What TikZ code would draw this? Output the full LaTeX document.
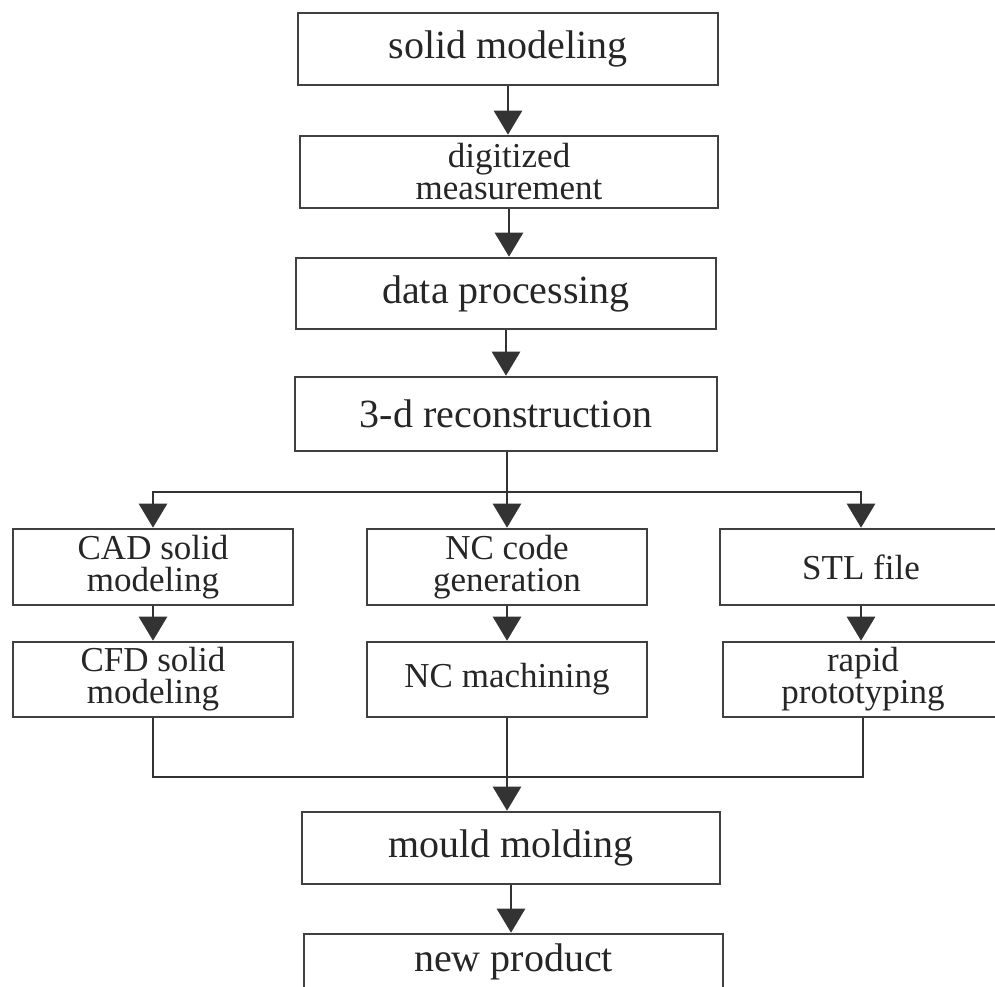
\documentclass[tikz,border=0pt]{standalone}
\usepackage{fontspec}
\setmainfont{Liberation Serif}
\usetikzlibrary{arrows.meta}
\tikzset{
  box/.style={draw=black!75, line width=2.6pt, rectangle, inner sep=0pt, align=center, text=black!85},
  big/.style={font=\fontsize{40}{42}\selectfont},
  small/.style={font=\fontsize{35}{32}\selectfont},
  flow/.style={draw=black!80, line width=2.8pt},
  arr/.style={flow, -{Triangle[width=28pt,length=24pt]}}
}
\begin{document}
\begin{tikzpicture}[x=1pt,y=-1pt]
\useasboundingbox (0,0) rectangle (995,986);
\clip (0,0) rectangle (995,986);
\fill[white] (0,0) rectangle (995,986);
% main column
\node[box,big,minimum width=420pt,minimum height=72pt] (b1) at (508,49) {solid modeling};
\node[box,small,minimum width=418pt,minimum height=72pt] (b2) at (509,172) {digitized\\measurement};
\node[box,big,minimum width=420pt,minimum height=71pt] (b3) at (506,293.5) {data processing};
\node[box,big,minimum width=422pt,minimum height=74pt] (b4) at (506,414) {3-d reconstruction};
% branches
\node[box,small,minimum width=280pt,minimum height=76pt] (cad) at (153,567) {CAD solid\\modeling};
\node[box,small,minimum width=280pt,minimum height=76pt] (nc1) at (507,567) {NC code\\generation};
\node[box,small,minimum width=282pt,minimum height=76pt] (stl) at (861,567) {STL file};
\node[box,small,minimum width=280pt,minimum height=75pt] (cfd) at (153,679.5) {CFD solid\\modeling};
\node[box,small,minimum width=280pt,minimum height=75pt] (nc2) at (507,679.5) {NC machining};
\node[box,small,minimum width=280pt,minimum height=75pt] (rp) at (863,679.5) {rapid\\prototyping};
% bottom
\node[box,big,minimum width=418pt,minimum height=72pt] (mm) at (511,848) {mould molding};
\node[box,minimum width=419pt,minimum height=72pt] (np) at (513.5,970) {};
\node[big,text=black!85,inner sep=0pt] (npt) at (513.5,962) {new product};
% connectors
\draw[arr] (b1.south) -- (b1.south |- b2.north);
\draw[arr] (b2.south) -- (b2.south |- b3.north);
\draw[arr] (b3.south) -- (b3.south |- b4.north);
\coordinate (sp) at (507,492);
\draw[arr] (sp |- b4.south) -- (nc1.north);
\draw[arr] (sp) -| (cad.north);
\draw[arr] (sp) -| (stl.north);
\draw[arr] (cad.south) -- (cfd.north);
\draw[arr] (nc1.south) -- (nc2.north);
\draw[arr] (stl.south) -- (stl.south |- rp.north);
\coordinate (mg) at (507,777);
\draw[flow] (cfd.south) |- (mg) -| (rp.south);
\draw[arr] (nc2.south) -- (nc2.south |- mm.north);
\draw[arr] (mm.south) -- (mm.south |- np.north);
\end{tikzpicture}
\end{document}
